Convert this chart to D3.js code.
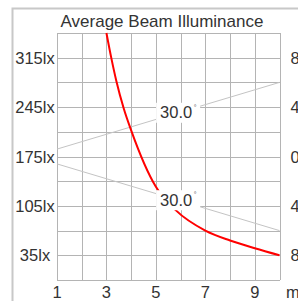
<!DOCTYPE html>
<html>
<head>
<meta charset="utf-8">
<script src="https://cdn.jsdelivr.net/npm/d3@7"></script>
<style>
    body { margin: 0; background: #fff; overflow: hidden; }
    svg { display: block; font-family: "Liberation Sans", Arial, sans-serif; }
</style>
</head>
<body>
<div id="chart"></div>
<script>
// Illuminance curve (distance in m, lux)
const distances = [3.0, 3.2, 3.4, 3.7, 4.0, 5.0, 5.8, 7.0, 8.0, 9.0, 10.0];
const illuminance = [350, 314, 282, 243, 212, 132, 99, 70, 56, 45, 35];

// Beam edges (distance in m, half width in m)
const beamDistances = [1, 10];
const beamHalfWidth = [0.6, 6.0];
const beamLabel = '30.0';
const beamLabelAt = 5.9;

// Tick labels
const luxTicks = [315, 245, 175, 105, 35];
const widthTicks = [8, 4, 0, -4, -8];
const distTicks = [1, 3, 5, 7, 9];

const W = 298, H = 301;
const plotLeft = 57, plotRight = 279.5, plotTop = 33, plotBottom = 280;

const svg = d3.select('#chart').append('svg')
    .attr('width', W)
    .attr('height', H);

// outer frame
svg.append('rect')
    .attr('x', 12.5).attr('y', 8.5)
    .attr('width', 320).attr('height', 320)
    .attr('fill', 'none')
    .attr('stroke', '#c8c8c8')
    .attr('stroke-width', 2);

const x = d3.scaleLinear().domain([1, 10]).range([plotLeft, plotRight]);
const y = d3.scaleLinear().domain([0, 350]).range([plotBottom, plotTop]);
const yr = d3.scaleLinear().domain([-10, 10]).range([plotBottom, plotTop]);

// grid
const grid = svg.append('g').attr('class', 'grid');
grid.append('g')
    .attr('transform', `translate(0,${plotBottom})`)
    .call(d3.axisBottom(x).ticks(9).tickSize(-(plotBottom - plotTop)).tickFormat(''));
grid.append('g')
    .attr('transform', `translate(${plotLeft},0)`)
    .call(d3.axisLeft(y).tickValues(d3.range(0, 351, 35)).tickSize(-(plotRight - plotLeft)).tickFormat(''));
grid.selectAll('.domain').remove();
grid.selectAll('line')
    .attr('stroke', '#b4b4b4')
    .attr('stroke-width', 1)
    .attr('shape-rendering', 'crispEdges');

// title
svg.append('text')
    .attr('x', 162).attr('y', 27)
    .attr('text-anchor', 'middle')
    .style('font-size', '17px')
    .style('fill', '#333')
    .text('Average Beam Illuminance');

// left labels
svg.append('g').selectAll('text')
    .data(luxTicks)
    .join('text')
    .attr('x', 35)
    .attr('y', d => y(d) + 6)
    .attr('text-anchor', 'middle')
    .style('font-size', '16.5px')
    .style('fill', '#333')
    .text(d => d + 'lx');

// right labels (cut by the window edge, as in the original)
svg.append('g').selectAll('text')
    .data(widthTicks)
    .join('text')
    .attr('x', 290.5)
    .attr('y', d => yr(d) + 6)
    .style('font-size', '16.5px')
    .style('fill', '#333')
    .text(d => Math.abs(d));

// bottom labels
svg.append('g').selectAll('text')
    .data(distTicks)
    .join('text')
    .attr('x', d => x(d))
    .attr('y', 298)
    .attr('text-anchor', 'middle')
    .style('font-size', '16.5px')
    .style('fill', '#333')
    .text(d => d);
svg.append('text')
    .attr('x', 286).attr('y', 298)
    .style('font-size', '16.5px')
    .style('fill', '#333')
    .text('m');

// beam lines
const beamLine = d3.line()
    .x(d => x(d[0]))
    .y(d => yr(d[1]));
[1, -1].forEach(s => {
    svg.append('path')
        .datum(beamDistances.map((d, i) => [d, s * beamHalfWidth[i]]))
        .attr('d', beamLine)
        .attr('fill', 'none')
        .attr('stroke', '#c4c4c4')
        .attr('stroke-width', 1);
});

// illuminance curve
const curve = d3.line()
    .x(d => x(d[0]))
    .y(d => y(d[1]))
    .curve(d3.curveMonotoneX);
svg.append('path')
    .datum(distances.map((d, i) => [d, illuminance[i]]))
    .attr('d', curve)
    .attr('fill', 'none')
    .attr('stroke', '#ff0000')
    .attr('stroke-width', 2);

// beam angle labels
const slope = (beamHalfWidth[1] - beamHalfWidth[0]) / (beamDistances[1] - beamDistances[0]);
const halfAt = beamHalfWidth[0] + slope * (beamLabelAt - beamDistances[0]);
[1, -1].forEach(s => {
    const cx = x(beamLabelAt);
    const cy = yr(s * halfAt);
    const g = svg.append('g');
    g.append('rect')
        .attr('x', cx - 22).attr('y', cy - 10)
        .attr('width', 44).attr('height', 20)
        .attr('fill', '#fff');
    g.append('text')
        .attr('x', cx - 2).attr('y', cy + 5.5)
        .attr('text-anchor', 'middle')
        .style('font-size', '16.5px')
        .style('fill', '#333')
        .text(beamLabel);
    g.append('text')
        .attr('x', cx + 15.5).attr('y', cy - 3)
        .style('font-size', '7px')
        .style('fill', '#555')
        .text('°');
});
</script>
</body>
</html>
